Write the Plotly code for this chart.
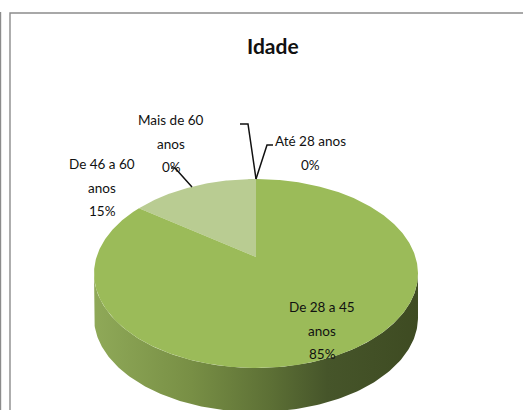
import numpy as np
import plotly.graph_objects as go

categories = ["De 28 a 45 anos", "De 46 a 60 anos", "Mais de 60 anos", "Até 28 anos"]
values = [85, 15, 0, 0]
pct_labels = ["85%", "15%", "0%", "0%"]
colors = ["#9bbb59", "#b9cc92", "#9bbb59", "#9bbb59"]
title = "Idade"

CX, CY, A, B, K, DEPTH = 256, 257, 159.5, 91.6, 0.1746, 44


def project(theta_deg, dy=0.0):
    """clockwise angle from top on the pie disc -> page position (perspective)"""
    t = np.radians(theta_deg)
    u, v = np.sin(t), np.cos(t)
    d = 1 + K * v
    return CX + A * u / d, CY - B * v / d + dy


fig = go.Figure()

# side wall: front half of the rim
ext = np.degrees(np.arccos(-K))
front = np.linspace(ext, 360 - ext, 160)
xt, yt = project(front)
xb, yb = project(front[::-1], DEPTH)
fig.add_trace(go.Scatter(
    x=np.r_[xt, xb], y=np.r_[yt, yb], mode="lines", line=dict(width=0),
    fill="toself", hoverinfo="skip", showlegend=False,
    fillgradient=dict(type="horizontal", colorscale=[
        [0.0, "#8fa958"], [0.3, "#788f45"], [0.55, "#5c6f35"],
        [0.72, "#46552a"], [1.0, "#3e4b22"]]),
))

# top face: light slice sits left of the top, main slice follows clockwise
order = [1, 2, 3, 0]
start = -values[1] / sum(values) * 360
angle = start
for i in order:
    sweep = values[i] / sum(values) * 360
    if sweep > 0:
        th = np.linspace(angle, angle + sweep, max(int(sweep * 2), 2))
        x, y = project(th)
        fig.add_trace(go.Scatter(
            x=np.r_[CX, x, CX], y=np.r_[CY, y, CY], mode="lines", line=dict(width=0),
            fill="toself", fillcolor=colors[i], name=categories[i],
            hoverinfo="name", showlegend=False,
        ))
    angle += sweep

# leader lines
leaders = [
    ([256, 267, 273], [179, 145, 145]),
    ([256, 248, 240], [179, 124, 124]),
    ([192, 175, 171], [187, 168, 168]),
]
for lx, ly in leaders:
    fig.add_trace(go.Scatter(x=lx, y=ly, mode="lines", line=dict(color="#111111", width=1.5),
                             hoverinfo="skip", showlegend=False))

# chart frame lines
frames = [
    ([10, 10, 523], [410, 13, 13], "#8c8c8c"),
    ([0.5, 0.5], [410, 12], "#8c8c8c"),
]
for lx, ly, c in frames:
    fig.add_trace(go.Scatter(x=lx, y=ly, mode="lines", line=dict(color=c, width=1.4),
                             hoverinfo="skip", showlegend=False))

FONT = "Lato, sans-serif"
LINE = 23.5
texts = [
    (322, 307, ["De 28 a 45", "anos", pct_labels[0]]),
    (102, 164, ["De 46 a 60", "anos", pct_labels[1]]),
    (171, 120, ["Mais de 60", "anos", pct_labels[2]]),
    (310, 141, ["Até 28 anos", pct_labels[3]]),
]
for x, y, lines in texts:
    for n, t in enumerate(lines):
        fig.add_annotation(x=x, y=y + n * LINE, text=t, showarrow=False,
                           xanchor="center", yanchor="middle",
                           font=dict(family=FONT, size=13.5, color="#111111"))
fig.add_annotation(x=272.5, y=45, text="<b>" + title + "</b>", showarrow=False,
                   font=dict(family=FONT, size=21, color="#111111"))

fig.update_layout(
    width=523, height=410, margin=dict(l=0, r=0, t=0, b=0),
    paper_bgcolor="white", plot_bgcolor="white", showlegend=False,
    xaxis=dict(range=[0, 523], visible=False, fixedrange=True),
    yaxis=dict(range=[410, 0], visible=False, fixedrange=True),
)
fig.write_html("out.html", config={"displayModeBar": False},
               post_script="document.body.style.margin='0';document.body.style.overflow='hidden';")
